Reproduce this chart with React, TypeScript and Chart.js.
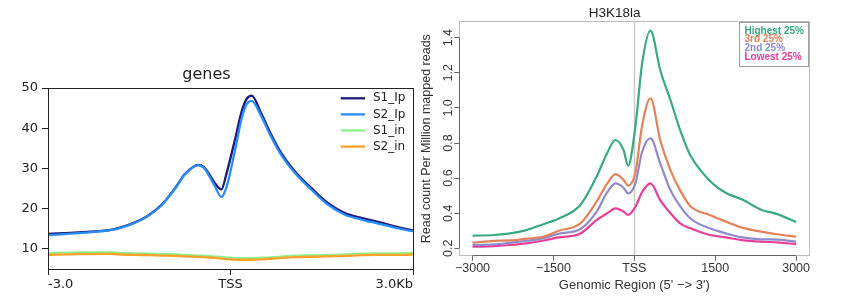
import React, { useEffect, useRef } from "react";
import { Chart, registerables } from "chart.js";

Chart.register(...registerables);

// ---------- Left panel: "genes" ----------
const genesPositions = [-3000, -2500, -1950, -1790, -1570, -1350, -1130, -910, -750, -530, -440, -365, -255, -150, -63, 74, 184, 266, 348, 505, 670, 835, 1055, 1330, 1600, 1880, 2150, 2425, 2700, 3000];
const s1Ip = [13.7, 14.1, 14.8, 15.4, 16.6, 18.3, 21.0, 25.1, 28.6, 30.9, 30.4, 28.9, 26.3, 24.8, 28.9, 37.2, 44.2, 47.3, 48.1, 43.7, 38.4, 33.8, 29.3, 25.1, 21.4, 18.9, 17.7, 16.7, 15.6, 14.6];
const s2Ip = [13.4, 13.9, 14.7, 15.3, 16.5, 18.2, 20.9, 25.0, 28.5, 30.8, 30.2, 28.5, 25.5, 22.9, 25.5, 34.5, 42.5, 46.0, 46.8, 43.0, 37.8, 33.3, 28.9, 24.7, 21.0, 18.5, 17.3, 16.3, 15.3, 14.4];
const s1In = [8.9, 9.1, 9.15, 9.0, 8.9, 8.8, 8.7, 8.6, 8.5, 8.35, 8.3, 8.2, 8.1, 8.0, 7.85, 7.7, 7.7, 7.7, 7.7, 7.8, 7.9, 8.1, 8.3, 8.4, 8.5, 8.6, 8.8, 8.9, 8.9, 9.0];
const s2In = [8.5, 8.7, 8.75, 8.6, 8.5, 8.45, 8.35, 8.25, 8.15, 8.0, 7.95, 7.85, 7.75, 7.6, 7.45, 7.35, 7.3, 7.3, 7.3, 7.4, 7.55, 7.75, 7.95, 8.05, 8.15, 8.25, 8.45, 8.5, 8.5, 8.55];
const genesLabels = ["S1_Ip", "S2_Ip", "S1_in", "S2_in"];
const genesColors = ["#1b1b78", "#2a8cf5", "#8ef08a", "#ffa02a"];
const genesXTicks = [-3000, 0, 3000];
const genesXTickLabels = ["-3.0", "TSS", "3.0Kb"];
const genesYTicks = [10, 20, 30, 40, 50];

// ---------- Right panel: "H3K18la" ----------
const h3Positions = [-3000, -2600, -2300, -2000, -1700, -1400, -1000, -700, -500, -350, -200, -115, 20, 145, 300, 480, 670, 850, 1040, 1400, 1700, 2000, 2350, 2650, 3000];
const highest = [0.272, 0.276, 0.285, 0.304, 0.336, 0.37, 0.447, 0.608, 0.745, 0.817, 0.76, 0.671, 0.893, 1.254, 1.44, 1.216, 1.045, 0.874, 0.73, 0.585, 0.515, 0.478, 0.42, 0.395, 0.35];
const third = [0.232, 0.243, 0.245, 0.255, 0.265, 0.3, 0.342, 0.466, 0.57, 0.623, 0.59, 0.557, 0.63, 0.9, 1.055, 0.817, 0.646, 0.53, 0.44, 0.39, 0.352, 0.318, 0.295, 0.28, 0.266];
const second = [0.219, 0.222, 0.232, 0.243, 0.257, 0.283, 0.31, 0.408, 0.52, 0.57, 0.545, 0.513, 0.57, 0.75, 0.827, 0.684, 0.532, 0.44, 0.37, 0.314, 0.285, 0.262, 0.251, 0.25, 0.238];
const lowest = [0.209, 0.213, 0.219, 0.228, 0.243, 0.262, 0.285, 0.361, 0.4, 0.428, 0.41, 0.39, 0.437, 0.52, 0.57, 0.475, 0.4, 0.342, 0.314, 0.276, 0.262, 0.247, 0.238, 0.234, 0.224];
const h3Labels = ["Highest 25%", "3rd 25%", "2nd 25%", "Lowest 25%"];
const h3Colors = ["#3aa883", "#e2825a", "#8f8bcb", "#e7409a"];
const h3XTicks = [-3000, -1500, 0, 1500, 3000];
const h3XTickLabels = ["\u22123000", "\u22121500", "TSS", "1500", "3000"];
const h3YTicks = [0.2, 0.4, 0.6, 0.8, 1.0, 1.2, 1.4];
const h3YTickLabels = ["0.2", "0.4", "0.6", "0.8", "1.0", "1.2", "1.4"];

const toPoints = (xs: number[], ys: number[]) => xs.map((x, i) => ({ x, y: ys[i] }));

function GenesChart() {
  const ref = useRef<HTMLCanvasElement | null>(null);
  useEffect(() => {
    if (!ref.current) return;
    const font = "DejaVu Sans";
    const frame = {
      id: "genesFrame",
      afterDraw(chart: any) {
        const { ctx, chartArea } = chart;
        const { left, right, top, bottom } = chartArea;
        ctx.save();
        ctx.strokeStyle = "#222";
        ctx.lineWidth = 1;
        ctx.strokeRect(Math.floor(left) + 0.5, Math.floor(top) + 0.5, Math.round(right - left), Math.round(bottom - top));
        ctx.font = `12px "${font}"`;
        ctx.textBaseline = "middle";
        ctx.textAlign = "left";
        genesLabels.forEach((lab, i) => {
          const y = top + 10.3 + i * 16.1;
          ctx.strokeStyle = genesColors[i];
          ctx.lineWidth = 2.3;
          ctx.beginPath();
          ctx.moveTo(right - 72.3, y);
          ctx.lineTo(right - 48, y);
          ctx.stroke();
          ctx.fillStyle = "#222";
          ctx.fillText(lab, right - 40, y);
        });
        ctx.restore();
      },
    };
    const series = [s1Ip, s2Ip, s1In, s2In];
    const chart = new Chart(ref.current, {
      type: "line",
      data: {
        datasets: series.map((s, i) => ({
          label: genesLabels[i],
          data: toPoints(genesPositions, s),
          borderColor: genesColors[i],
          backgroundColor: genesColors[i],
          borderWidth: 2.3,
          pointRadius: 0,
          cubicInterpolationMode: "monotone" as const,
          order: 4 - i,
        })),
      },
      options: {
        animation: false,
        responsive: true,
        maintainAspectRatio: false,
        layout: { padding: { left: 0, right: 7, top: 0, bottom: 0 } },
        plugins: {
          legend: { display: false },
          tooltip: { enabled: false },
          title: {
            display: true,
            text: "genes",
            color: "#222",
            font: { family: font, size: 16, weight: "normal" as const },
            padding: { top: 65, bottom: 3.8 },
          },
        },
        scales: {
          x: {
            type: "linear",
            min: -3000,
            max: 3000,
            afterBuildTicks: (axis: any) => {
              axis.ticks = genesXTicks.map((v) => ({ value: v }));
            },
            afterFit: (axis: any) => {
              axis.height = 33;
            },
            ticks: {
              autoSkip: false,
              maxRotation: 0,
              minRotation: 0,
              align: "inner" as const,
              padding: 2,
              color: "#222",
              font: { family: font, size: 13 },
              callback: (v: any) => genesXTickLabels[genesXTicks.indexOf(Number(v))],
            },
            grid: { display: true, drawOnChartArea: false, drawTicks: true, tickLength: 6, tickColor: "#222", color: "#222" },
            border: { display: false },
          },
          y: {
            type: "linear",
            min: 5,
            max: 50,
            afterBuildTicks: (axis: any) => {
              axis.ticks = genesYTicks.map((v) => ({ value: v }));
            },
            afterFit: (axis: any) => {
              axis.width = 48;
            },
            ticks: {
              padding: 4,
              color: "#222",
              font: { family: font, size: 13 },
              callback: (v: any) => String(v),
            },
            grid: { display: true, drawOnChartArea: false, drawTicks: true, tickLength: 6, tickColor: "#222", color: "#222" },
            border: { display: false },
          },
        },
      },
      plugins: [frame],
    } as any);
    return () => chart.destroy();
  }, []);
  return <canvas ref={ref} />;
}

function H3Chart() {
  const ref = useRef<HTMLCanvasElement | null>(null);
  useEffect(() => {
    if (!ref.current) return;
    const font = "Liberation Sans";
    const deco = {
      id: "h3Deco",
      beforeDatasetsDraw(chart: any) {
        const { ctx, chartArea, scales } = chart;
        const x = Math.round(scales.x.getPixelForValue(0)) + 0.5;
        ctx.save();
        ctx.strokeStyle = "#c9c9c9";
        ctx.lineWidth = 1.5;
        ctx.beginPath();
        ctx.moveTo(x, chartArea.top);
        ctx.lineTo(x, chartArea.bottom);
        ctx.stroke();
        ctx.restore();
      },
      afterDraw(chart: any) {
        const { ctx, chartArea, scales } = chart;
        const { left, right, top, bottom } = chartArea;
        ctx.save();
        ctx.strokeStyle = "#bdbdbd";
        ctx.lineWidth = 1;
        ctx.strokeRect(Math.floor(left) + 0.5, Math.floor(top) + 0.5, Math.round(right - left), Math.round(bottom - top));
        ctx.strokeStyle = "#666";
        const by = Math.floor(bottom) + 0.5;
        ctx.beginPath();
        ctx.moveTo(scales.x.getPixelForValue(h3XTicks[0]), by);
        ctx.lineTo(scales.x.getPixelForValue(h3XTicks[h3XTicks.length - 1]), by);
        const lx = Math.floor(left) + 0.5;
        ctx.moveTo(lx, scales.y.getPixelForValue(h3YTicks[0]));
        ctx.lineTo(lx, scales.y.getPixelForValue(h3YTicks[h3YTicks.length - 1]));
        ctx.stroke();
        ctx.fillStyle = "#333";
        ctx.font = `12.5px "${font}"`;
        ctx.textAlign = "center";
        ctx.textBaseline = "middle";
        h3YTicks.forEach((v, i) => {
          const y = scales.y.getPixelForValue(v);
          ctx.save();
          ctx.translate(left - 10.5, y);
          ctx.rotate(-Math.PI / 2);
          ctx.fillText(h3YTickLabels[i], 0, 0);
          ctx.restore();
        });
        const bx = Math.floor(right) - 69.5;
        const byy = Math.floor(top) + 1.5;
        ctx.strokeStyle = "#9a9a9a";
        ctx.strokeRect(bx, byy, 69, 44);
        ctx.font = `bold 10px "${font}"`;
        ctx.textAlign = "left";
        h3Labels.forEach((lab, i) => {
          ctx.fillStyle = h3Colors[i];
          ctx.fillText(lab, bx + 5, byy + 8.3 + i * 8.9);
        });
        ctx.restore();
      },
    };
    const series = [highest, third, second, lowest];
    const chart = new Chart(ref.current, {
      type: "line",
      data: {
        datasets: series.map((s, i) => ({
          label: h3Labels[i],
          data: toPoints(h3Positions, s),
          borderColor: h3Colors[i],
          backgroundColor: h3Colors[i],
          borderWidth: 2.2,
          pointRadius: 0,
          cubicInterpolationMode: "monotone" as const,
        })),
      },
      options: {
        animation: false,
        responsive: true,
        maintainAspectRatio: false,
        layout: { padding: { left: 0, right: 31.7, top: 0, bottom: 0 } },
        plugins: {
          legend: { display: false },
          tooltip: { enabled: false },
          title: {
            display: true,
            text: "H3K18la",
            color: "#222",
            font: { family: font, size: 13.5, weight: "normal" as const },
            padding: { top: 5.2, bottom: 0.3 },
          },
        },
        scales: {
          x: {
            type: "linear",
            min: -3245,
            max: 3245,
            afterBuildTicks: (axis: any) => {
              axis.ticks = h3XTicks.map((v) => ({ value: v }));
            },
            afterFit: (axis: any) => {
              axis.height = 46.3;
            },
            ticks: {
              autoSkip: false,
              maxRotation: 0,
              minRotation: 0,
              padding: 0,
              color: "#333",
              font: { family: font, size: 12.5 },
              callback: (v: any) => h3XTickLabels[h3XTicks.indexOf(Number(v))],
            },
            title: {
              display: true,
              text: "Genomic Region (5' \u2212> 3')",
              color: "#333",
              font: { family: font, size: 13 },
              padding: { top: 0, bottom: 9.2 },
            },
            grid: { display: true, drawOnChartArea: false, drawTicks: true, tickLength: 5, tickColor: "#666", color: "#666" },
            border: { display: false },
          },
          y: {
            type: "linear",
            min: 0.158,
            max: 1.491,
            afterBuildTicks: (axis: any) => {
              axis.ticks = h3YTicks.map((v) => ({ value: v }));
            },
            afterFit: (axis: any) => {
              axis.width = 39.3;
            },
            ticks: { display: false },
            title: {
              display: true,
              text: "Read count Per Million mapped reads",
              color: "#333",
              font: { family: font, size: 12.5, lineHeight: 1 },
              padding: 0,
            },
            grid: { display: true, drawOnChartArea: false, drawTicks: true, tickLength: 5, tickColor: "#666", color: "#666" },
            border: { display: false },
          },
        },
      },
      plugins: [deco],
    } as any);
    return () => chart.destroy();
  }, []);
  return <canvas ref={ref} />;
}

export default function App() {
  return (
    <div style={{ position: "fixed", left: 0, top: 0, width: 841, height: 302, background: "#fff", overflow: "hidden" }}>
      <div style={{ position: "absolute", left: 0, top: 0, width: 420, height: 302 }}>
        <GenesChart />
      </div>
      <div style={{ position: "absolute", left: 420, top: 0, width: 421, height: 302 }}>
        <H3Chart />
      </div>
    </div>
  );
}
